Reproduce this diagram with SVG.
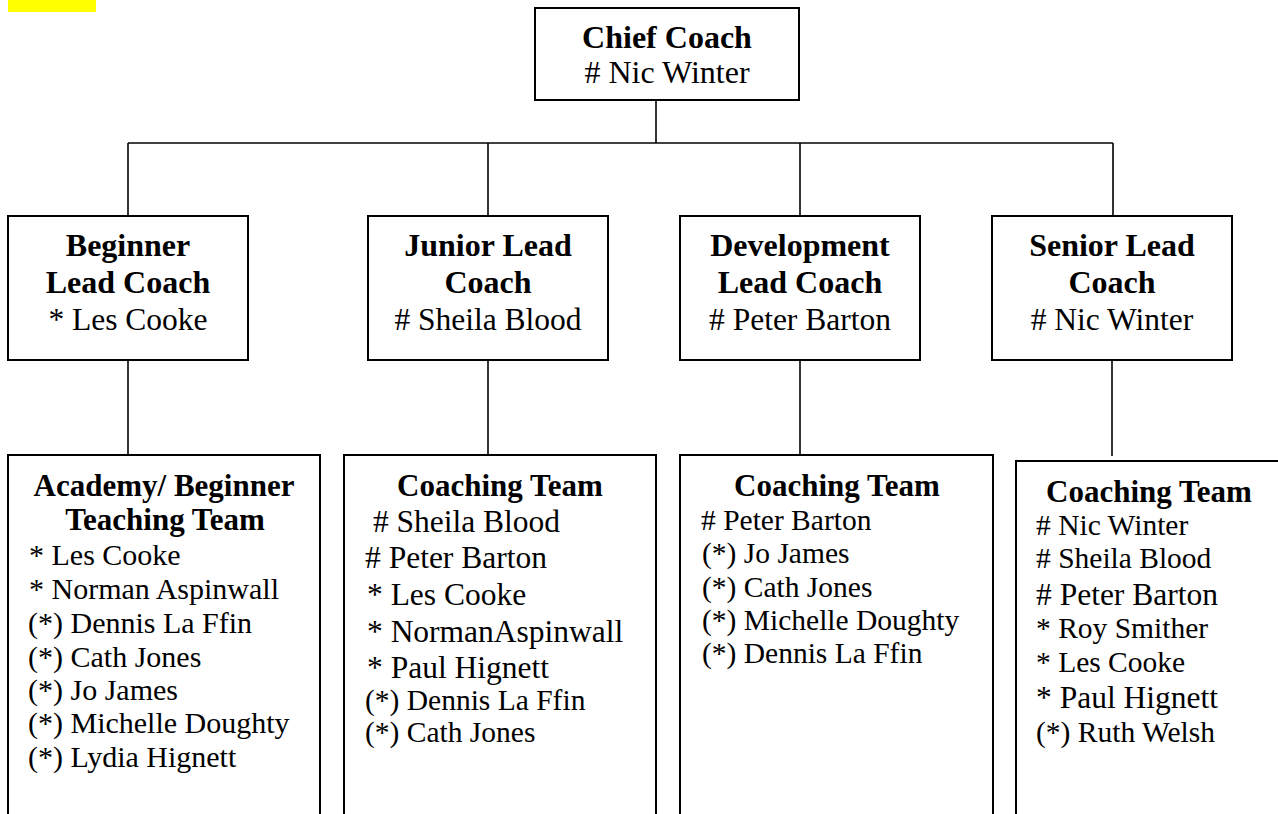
<svg xmlns="http://www.w3.org/2000/svg" width="1278" height="814" viewBox="0 0 1278 814">
<style>
.box{fill:#fff;stroke:#000;stroke-width:2}
.con{stroke:#000;stroke-width:1.6;fill:none}
text{font-family:"Liberation Serif","Times New Roman",serif;fill:#000}
.t1{font-size:32px;font-weight:bold;text-anchor:middle}
.n1{font-size:31.5px;text-anchor:middle}
.t3{font-size:31px;font-weight:bold;text-anchor:middle}
.n3{font-size:30px}
.s3{font-size:29.5px}
.b3{font-size:31.5px}
</style>
<rect x="8" y="0" width="88" height="12" fill="#ffff00"/>
<g id="connectors">
<line class="con" x1="656" y1="100" x2="656" y2="143"/>
<line class="con" x1="128" y1="143" x2="1113" y2="143"/>
<line class="con" x1="128" y1="143" x2="128" y2="216"/>
<line class="con" x1="488" y1="143" x2="488" y2="216"/>
<line class="con" x1="800" y1="143" x2="800" y2="216"/>
<line class="con" x1="1113" y1="143" x2="1113" y2="216"/>
<line class="con" x1="128" y1="360" x2="128" y2="455"/>
<line class="con" x1="488" y1="360" x2="488" y2="455"/>
<line class="con" x1="800" y1="360" x2="800" y2="455"/>
<line class="con" x1="1112" y1="360" x2="1112" y2="456"/>
</g>
<g id="chief">
<rect class="box" x="535" y="8" width="264" height="92"/>
<text class="t1" x="667" y="48">Chief Coach</text>
<text class="n1" x="667" y="83" style="font-size:32px"># Nic Winter</text>
</g>
<g id="beginner-lead">
<rect class="box" x="8" y="216" width="240" height="144"/>
<text class="t1" x="128" y="256">Beginner</text>
<text class="t1" x="128" y="293">Lead Coach</text>
<text class="n1" x="128" y="330">* Les Cooke</text>
</g>
<g id="junior-lead">
<rect class="box" x="368" y="216" width="240" height="144"/>
<text class="t1" x="488" y="256">Junior Lead</text>
<text class="t1" x="488" y="293">Coach</text>
<text class="n1" x="488" y="330"># Sheila Blood</text>
</g>
<g id="development-lead">
<rect class="box" x="680" y="216" width="240" height="144"/>
<text class="t1" x="800" y="256">Development</text>
<text class="t1" x="800" y="293">Lead Coach</text>
<text class="n1" x="800" y="330"># Peter Barton</text>
</g>
<g id="senior-lead">
<rect class="box" x="992" y="216" width="240" height="144"/>
<text class="t1" x="1112" y="256">Senior Lead</text>
<text class="t1" x="1112" y="293">Coach</text>
<text class="n1" x="1112" y="330"># Nic Winter</text>
</g>
<g id="beginner-team">
<rect class="box" x="8" y="455" width="312" height="380"/>
<text class="t3" x="164" y="496">Academy/ Beginner</text>
<text class="t3" x="165" y="530">Teaching Team</text>
<text class="n3" x="29" y="565">* Les Cooke</text>
<text class="n3" x="29" y="599">* Norman Aspinwall</text>
<text class="n3" x="28" y="633">(*) Dennis La Ffin</text>
<text class="n3" x="28" y="667">(*) Cath Jones</text>
<text class="n3" x="28" y="700">(*) Jo James</text>
<text class="n3" x="28" y="733">(*) Michelle Doughty</text>
<text class="n3" x="28" y="767">(*) Lydia Hignett</text>
</g>
<g id="junior-team">
<rect class="box" x="344" y="455" width="312" height="380"/>
<text class="t3" x="500" y="496">Coaching Team</text>
<text class="b3" x="365" y="532" xml:space="preserve"> # Sheila Blood</text>
<text class="b3" x="365" y="568"># Peter Barton</text>
<text class="b3" x="367" y="605">* Les Cooke</text>
<text class="b3" x="367" y="642">* NormanAspinwall</text>
<text class="b3" x="367" y="678">* Paul Hignett</text>
<text class="s3" x="365" y="710">(*) Dennis La Ffin</text>
<text class="s3" x="365" y="742">(*) Cath Jones</text>
</g>
<g id="development-team">
<rect class="box" x="680" y="455" width="313" height="380"/>
<text class="t3" x="837" y="496">Coaching Team</text>
<text class="s3" x="701" y="530"># Peter Barton</text>
<text class="s3" x="702" y="563">(*) Jo James</text>
<text class="s3" x="702" y="597">(*) Cath Jones</text>
<text class="s3" x="702" y="630">(*) Michelle Doughty</text>
<text class="s3" x="702" y="663">(*) Dennis La Ffin</text>
</g>
<g id="senior-team">
<rect class="box" x="1016" y="461" width="290" height="380"/>
<text class="t3" x="1149" y="502">Coaching Team</text>
<text class="s3" x="1036" y="535"># Nic Winter</text>
<text class="s3" x="1036" y="568"># Sheila Blood</text>
<text class="b3" x="1036" y="605"># Peter Barton</text>
<text class="s3" x="1036" y="638">* Roy Smither</text>
<text class="s3" x="1036" y="672">* Les Cooke</text>
<text class="b3" x="1036" y="708">* Paul Hignett</text>
<text class="s3" x="1036" y="742">(*) Ruth Welsh</text>
</g>
</svg>
